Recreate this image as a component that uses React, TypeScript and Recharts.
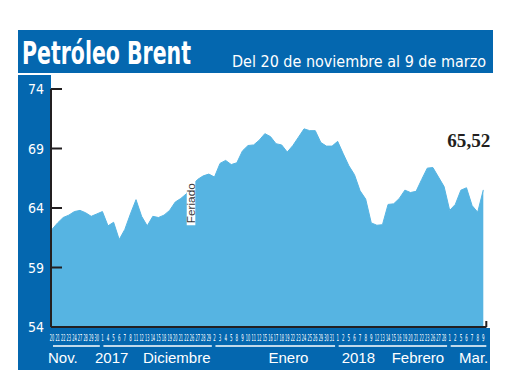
import { Area, AreaChart, ReferenceDot, XAxis, YAxis } from 'recharts';

// trading days shown under the axis, one array per month
const novDays = ['20', '21', '22', '23', '24', '27', '28', '29', '30'];
const decDays = ['1', '4', '5', '6', '7', '8', '11', '12', '13', '14', '15', '18', '19', '20', '21', '22', '26', '27', '28', '29'];
const janDays = ['2', '3', '4', '5', '8', '9', '10', '11', '12', '15', '16', '17', '18', '19', '22', '23', '24', '25', '26', '29', '30', '31'];
const febDays = ['1', '2', '5', '6', '7', '8', '9', '12', '13', '14', '15', '16', '19', '20', '21', '22', '23', '26', '27', '28'];
const marDays = ['1', '2', '5', '6', '7', '8', '9'];
const monthKeys = ['nov', 'dic', 'ene', 'feb', 'mar'];

// Brent, USD per barrel
const brentPrices = [
  62.2, 62.75, 63.2, 63.4, 63.7, 63.8, 63.6, 63.3, 63.5,
  63.7, 62.5, 62.8, 61.35, 62.2, 63.5, 64.7, 63.3, 62.5, 63.3, 63.2, 63.4, 63.8, 64.5, 64.8, 65.2, 65.9, 66.4, 66.7, 66.85,
  66.6, 67.75, 68.0, 67.65, 67.8, 68.8, 69.25, 69.3, 69.7, 70.25, 70.0, 69.4, 69.3, 68.7, 69.25, 69.95, 70.65, 70.5, 70.5, 69.5, 69.2, 69.2,
  69.6, 68.55, 67.55, 66.8, 65.45, 64.75, 62.75, 62.55, 62.6, 64.3, 64.35, 64.8, 65.5, 65.3, 65.4, 66.4, 67.35, 67.4, 66.6, 65.8,
  63.8, 64.3, 65.5, 65.7, 64.2, 63.65, 65.52,
];

const yTicks = [54, 59, 64, 69, 74];
const monthText = ['Nov.', '2017', 'Diciembre', 'Enero', '2018', 'Febrero', 'Mar.'];
const monthTextGroup = [0, 1, 1, 2, 3, 3, 4];
const lastLabel = '65,52';
const holidayLabel = 'Feriado';
const holidayAfter = 'dic-26';

// layout
const CHART_W = 474;
const CHART_H = 296;
const Y_AXIS_W = 33;
const MARGIN = { top: 15, right: 5.5, left: 0, bottom: 0 };
const PAD = { left: 1, right: 3.2 };
const MONTH_TEXT_DX = [-4, -7.4, 40.6, 54, 4, 54, 9.4];
const DAY_SCALE = 0.5; // day numbers are squeezed horizontally to fit 5.6px slots
const TITLE_SCALE = 0.75;
const INK = '#231F20';
const BLUE = '#0467AF';
const AREA = '#56B4E2';
const NARROW = "'Liberation Sans Narrow', 'DejaVu Sans Condensed', 'Liberation Sans', sans-serif";

const groups = [novDays, decDays, janDays, febDays, marDays];

interface Row {
  id: string;
  day: string;
  group: number;
  first: boolean;
  size: number;
  price: number;
}

const rows: Row[] = groups.flatMap((days, g) =>
  days.map((day, i) => ({
    id: `${monthKeys[g]}-${day}`,
    day,
    group: g,
    first: i === 0,
    size: days.length,
    price: 0,
  })),
);
rows.forEach((r, i) => {
  r.price = brentPrices[i];
});
const rowById = new Map(rows.map((r) => [r.id, r]));
const lastRow = rows[rows.length - 1];

const STEP = (CHART_W - MARGIN.right - Y_AXIS_W - PAD.left - PAD.right) / (rows.length - 1);

function DayTick(props: any) {
  const { x, y, payload } = props;
  const row = rowById.get(payload?.value);
  if (!row) return null;
  const texts = monthText
    .map((t, i) => ({ t, i }))
    .filter(({ i }) => row.first && monthTextGroup[i] === row.group);
  const w = row.day.length > 1 ? 4.4 : 2.5;
  return (
    <g>
      <text
        x={0}
        y={0}
        transform={`translate(${x}, ${y + 13.5}) scale(${DAY_SCALE}, 1)`}
        textAnchor="middle"
        fill="#fff"
        fontSize={9.5}
        fontFamily={NARROW}
        textLength={w / DAY_SCALE}
        lengthAdjust="spacingAndGlyphs"
      >
        {row.day}
      </text>
      {row.first && (
        <line
          x1={x + 1}
          x2={x + (row.size - 1) * STEP + 3}
          y1={y + 19}
          y2={y + 19}
          stroke="#fff"
          strokeWidth={1.5}
        />
      )}
      {texts.map(({ t, i }) => (
        <text
          key={t}
          x={x + MONTH_TEXT_DX[i]}
          y={y + 36}
          fill="#fff"
          fontSize={15}
          fontFamily="'Liberation Sans', Arial, sans-serif"
        >
          {t}
        </text>
      ))}
      {row === lastRow && (
        <line x1={x + 3} x2={x + 3} y1={y - 6} y2={y} stroke={INK} strokeWidth={2} />
      )}
    </g>
  );
}

function PriceTick(props: any) {
  const { x, y, payload } = props;
  return (
    <g>
      <line x1={x} x2={x + 11} y1={y} y2={y} stroke={INK} strokeWidth={2} />
      <text x={x - 7} y={y} dy="0.36em" textAnchor="end" fill="#fff" fontSize={14} fontFamily={NARROW}>
        {payload.value}
      </text>
    </g>
  );
}

function HolidayLabel(props: any) {
  const { viewBox } = props;
  if (!viewBox) return null;
  const cx = viewBox.x - 1;
  const cy = viewBox.y;
  return (
    <g>
      <rect x={cx - 4.3} y={cy - 22} width={8.6} height={44} fill="#fff" />
      <text
        x={0}
        y={0}
        transform={`translate(${cx + 3.8}, ${cy}) rotate(-90)`}
        textAnchor="middle"
        fill="#3a3a3a"
        fontSize={11.5}
        fontFamily="'Liberation Sans', Arial, sans-serif"
        textLength={40}
        lengthAdjust="spacingAndGlyphs"
      >
        {holidayLabel}
      </text>
    </g>
  );
}

function LastLabel(props: any) {
  const { viewBox } = props;
  if (!viewBox) return null;
  return (
    <text
      x={viewBox.x + 7}
      y={viewBox.y - 43}
      textAnchor="end"
      fill={INK}
      fontSize={18.5}
      fontWeight="bold"
      fontFamily="'Liberation Serif', 'DejaVu Serif', serif"
      textLength={43}
      lengthAdjust="spacingAndGlyphs"
    >
      {lastLabel}
    </text>
  );
}

function Header() {
  return (
    <svg width={475} height={43} style={{ position: 'absolute', left: 18, top: 30 }}>
      <rect x={0} y={0} width={475} height={43} fill={BLUE} />
      <text
        x={0}
        y={0}
        transform={`translate(4, 34) scale(${TITLE_SCALE}, 1)`}
        fill="#fff"
        fontSize={32}
        fontWeight="bold"
        fontFamily={NARROW}
        textLength={169 / TITLE_SCALE}
        lengthAdjust="spacingAndGlyphs"
      >
        Petróleo Brent
      </text>
      <text
        x={214}
        y={36.7}
        fill="#fff"
        fontSize={16.5}
        fontFamily={NARROW}
        textLength={254}
        lengthAdjust="spacingAndGlyphs"
      >
        Del 20 de noviembre al 9 de marzo
      </text>
    </svg>
  );
}

export default function App() {
  return (
    <div style={{ position: 'absolute', left: 0, top: 0, width: 520, height: 390, background: '#fff' }}>
      <Header />
      <div style={{ position: 'absolute', left: 18, top: 75, width: 33, height: 295, background: BLUE }} />
      <div style={{ position: 'absolute', left: 18, top: 328, width: 472, height: 42, background: BLUE }} />
      <div style={{ position: 'absolute', left: 18, top: 74 }}>
        <AreaChart width={CHART_W} height={CHART_H} data={rows} margin={MARGIN}>
          <XAxis
            dataKey="id"
            type="category"
            interval={0}
            height={43}
            padding={PAD}
            tickLine={false}
            tickSize={0}
            tickMargin={0}
            axisLine={{ stroke: INK, strokeWidth: 2 }}
            tick={(p: any) => <DayTick {...p} />}
          />
          <YAxis
            domain={[54, 74]}
            ticks={yTicks}
            width={Y_AXIS_W}
            tickLine={false}
            tickSize={0}
            tickMargin={0}
            axisLine={{ stroke: INK, strokeWidth: 2 }}
            tick={(p: any) => <PriceTick {...p} />}
          />
          <Area
            type="linear"
            dataKey="price"
            fill={AREA}
            fillOpacity={1}
            stroke={AREA}
            strokeWidth={1}
            dot={false}
            activeDot={false}
            isAnimationActive={false}
          />
          <ReferenceDot
            x={holidayAfter}
            y={64.4}
            r={0}
            fill="none"
            stroke="none"
            label={(p: any) => <HolidayLabel {...p} />}
          />
          <ReferenceDot
            x={lastRow.id}
            y={lastRow.price}
            r={0}
            fill="none"
            stroke="none"
            label={(p: any) => <LastLabel {...p} />}
          />
        </AreaChart>
      </div>
    </div>
  );
}
